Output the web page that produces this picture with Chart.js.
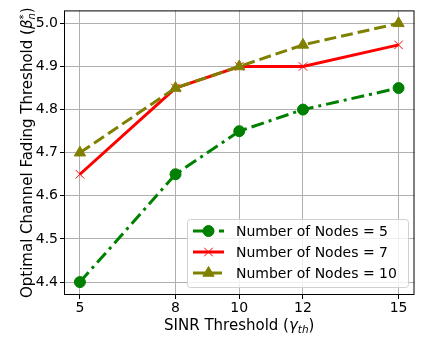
<!DOCTYPE html>
<html>
<head>
<meta charset="utf-8">
<script src="https://cdn.jsdelivr.net/npm/chart.js@4/dist/chart.umd.min.js"></script>
<style>
  html, body { margin: 0; padding: 0; background: #fff; }
  #wrap { width: 422px; height: 338px; }
</style>
</head>
<body>
<div id="wrap"><canvas id="chart" width="422" height="338"></canvas></div>
<script>
// data
const sinr = [5, 8, 10, 12, 15];
const nodes5 = [4.40, 4.65, 4.75, 4.80, 4.85];
const nodes7 = [4.65, 4.85, 4.90, 4.90, 4.95];
const nodes10 = [4.70, 4.85, 4.90, 4.95, 5.00];
const xTicks = [5, 8, 10, 12, 15];
const yTicks = [4.4, 4.5, 4.6, 4.7, 4.8, 4.9, 5.0];
const labels = ['Number of Nodes = 5', 'Number of Nodes = 7', 'Number of Nodes = 10'];

const FONT = 'DejaVu Sans';
const pts = ys => sinr.map((x, i) => ({ x: x, y: ys[i] }));

// text with sub/superscripts, centred on x
function richText(ctx, parts, x, y) {
  const font = p => (p.italic ? 'italic ' : '') + p.size + 'px ' + FONT;
  let w = 0, prevW = 0;
  parts.forEach(p => {
    ctx.font = font(p);
    const pw = ctx.measureText(p.t).width;
    if (p.stack) { w += Math.max(0, pw - prevW); prevW = Math.max(pw, prevW); }
    else { w += pw; prevW = pw; }
  });
  let cx = x - w / 2, lastX = cx;
  ctx.textAlign = 'left';
  ctx.textBaseline = 'alphabetic';
  parts.forEach(p => {
    ctx.font = font(p);
    const pw = ctx.measureText(p.t).width;
    const px = p.stack ? lastX : cx;
    ctx.fillText(p.t, px, y + (p.dy || 0));
    if (p.stack) cx = Math.max(cx, px + pw);
    else { lastX = cx; cx += pw; }
  });
}

const extras = {
  id: 'extras',
  afterDraw(chart) {
    const ctx = chart.ctx, a = chart.chartArea;
    ctx.save();
    // frame
    ctx.strokeStyle = '#000';
    ctx.lineWidth = 1;
    ctx.strokeRect(a.left + 0.5, a.top + 0.5, a.right - a.left - 1, a.bottom - a.top - 1);

    // axis titles
    ctx.fillStyle = '#000';
    richText(ctx, [
      { t: 'SINR Threshold (', size: 15 },
      { t: '\u03b3', size: 15, italic: true },
      { t: 'th', size: 10.5, italic: true, dy: 3 },
      { t: ')', size: 15 }
    ], (a.left + a.right) / 2, 330);

    ctx.save();
    ctx.translate(32, (a.top + a.bottom) / 2);
    ctx.rotate(-Math.PI / 2);
    richText(ctx, [
      { t: 'Optimal Channel Fading Threshold (', size: 15 },
      { t: '\u03b2', size: 15, italic: true },
      { t: '*', size: 10, dy: -5 },
      { t: 'n', size: 10, italic: true, dy: 3, stack: true },
      { t: ')', size: 15 }
    ], 0, 0);
    ctx.restore();

    // legend
    const bx = 187, by = 219, bw = 221, bh = 68;
    ctx.beginPath();
    ctx.roundRect(bx + 0.5, by + 0.5, bw, bh, 3);
    ctx.fillStyle = 'rgba(255,255,255,0.8)';
    ctx.fill();
    ctx.strokeStyle = '#d0d0d0';
    ctx.lineWidth = 1;
    ctx.stroke();

    const rows = [231, 252, 273];
    chart.data.datasets.forEach((ds, k) => {
      const y = rows[k];
      ctx.save();
      ctx.strokeStyle = ds.borderColor;
      ctx.lineWidth = ds.borderWidth;
      ctx.setLineDash(ds.borderDash || []);
      ctx.beginPath();
      ctx.moveTo(193, y);
      ctx.lineTo(224, y);
      ctx.stroke();
      ctx.restore();
      ctx.save();
      ctx.fillStyle = ds.pointBackgroundColor;
      ctx.strokeStyle = ds.pointBorderColor;
      ctx.lineWidth = ds.pointBorderWidth;
      Chart.helpers.drawPoint(ctx, {
        pointStyle: ds.pointStyle,
        radius: ds.pointRadius,
        borderWidth: ds.pointBorderWidth,
        rotation: ds.pointRotation || 0
      }, 208.5, y);
      ctx.restore();
      ctx.fillStyle = '#000';
      ctx.font = '14px ' + FONT;
      ctx.textBaseline = 'middle';
      ctx.textAlign = 'left';
      ctx.fillText(ds.label, 236, y + 1);
    });
    ctx.restore();
  }
};

new Chart(document.getElementById('chart'), {
  type: 'line',
  data: {
    datasets: [
      {
        label: labels[0], data: pts(nodes5),
        borderColor: '#008000', borderWidth: 3, borderDash: [13, 5, 3, 5],
        pointStyle: 'circle', pointRadius: 5.5, pointBorderWidth: 1,
        pointBackgroundColor: '#008000', pointBorderColor: '#008000',
        order: 3
      },
      {
        label: labels[1], data: pts(nodes7),
        borderColor: '#ff0000', borderWidth: 3,
        pointStyle: 'cross', pointRadius: 6, pointBorderWidth: 1, pointRotation: 45,
        pointBackgroundColor: '#ff0000', pointBorderColor: '#ff0000',
        order: 2
      },
      {
        label: labels[2], data: pts(nodes10),
        borderColor: '#808000', borderWidth: 3, borderDash: [12, 5],
        pointStyle: 'triangle', pointRadius: 6.5, pointBorderWidth: 1,
        pointBackgroundColor: '#808000', pointBorderColor: '#808000',
        order: 1
      }
    ]
  },
  options: {
    responsive: false,
    animation: false,
    layout: { padding: { top: 6, right: 6, left: 0, bottom: 0 } },
    plugins: { legend: { display: false }, tooltip: { enabled: false } },
    scales: {
      x: {
        type: 'linear', min: 4.5, max: 15.5,
        afterBuildTicks: s => { s.ticks = xTicks.map(v => ({ value: v })); },
        afterFit: s => { s.height = 43; },
        grid: { color: '#b0b0b0', lineWidth: 1, tickColor: '#000', tickLength: 4 },
        border: { display: false },
        ticks: { color: '#000', font: { family: FONT, size: 14 }, padding: 1, maxRotation: 0 }
      },
      y: {
        min: 4.37, max: 5.03,
        afterBuildTicks: s => { s.ticks = yTicks.map(v => ({ value: v })); },
        afterFit: s => { s.width = 64; },
        grid: { color: '#b0b0b0', lineWidth: 1, tickColor: '#000', tickLength: 4 },
        border: { display: false },
        ticks: { color: '#000', font: { family: FONT, size: 14 }, padding: 2,
                 callback: v => v.toFixed(1) }
      }
    }
  },
  plugins: [extras]
});
</script>
</body>
</html>
